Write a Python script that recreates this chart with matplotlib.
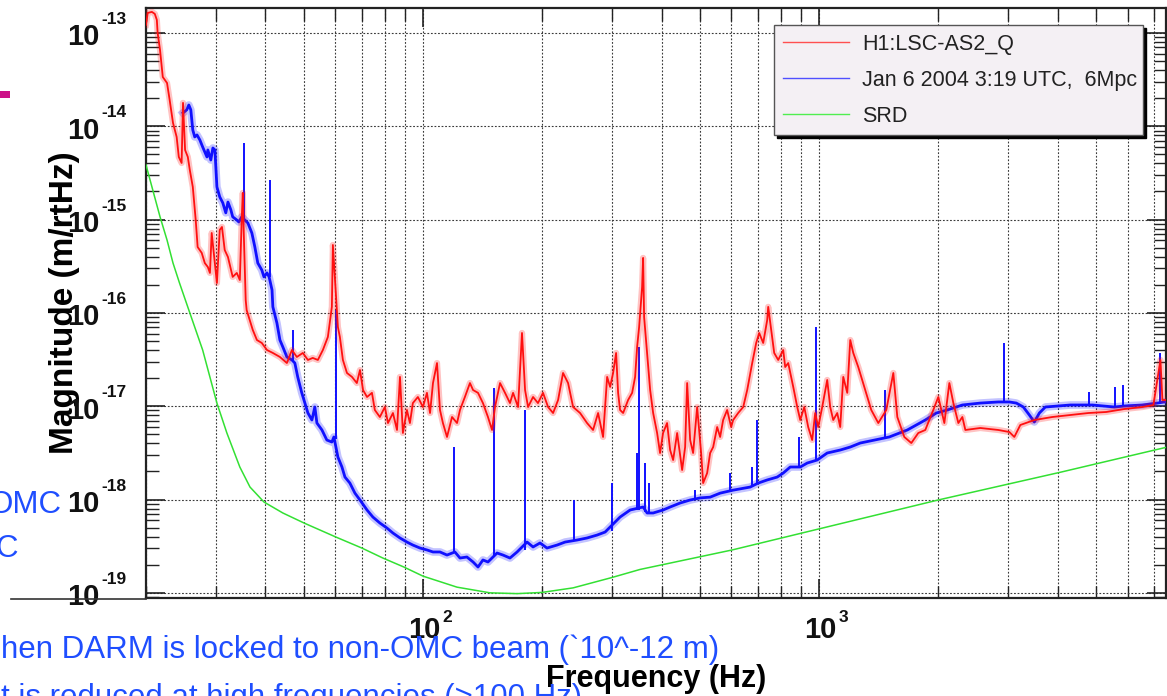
import numpy as np
import matplotlib
matplotlib.use("Agg")
import matplotlib.pyplot as plt
from matplotlib.ticker import LogLocator, NullFormatter
from matplotlib.transforms import offset_copy
from matplotlib.patches import Rectangle
from matplotlib.lines import Line2D

plt.rcParams['font.family'] = ['Liberation Sans', 'DejaVu Sans']

# H1:LSC-AS2_Q spectrum (Hz, m/rtHz)
red_f = [20.0, 20.2, 20.7, 21.05, 21.3, 21.4, 21.7, 22.05, 22.6, 22.95,
         23.4, 23.9, 24.2, 24.6, 24.8, 25.1, 25.5, 25.8, 26.25, 26.7,
         27.0, 27.65, 28.15, 28.65, 29.0, 29.3, 29.65, 30.2, 30.7, 31.1,
         31.6, 32.2, 33.1, 33.9, 34.5, 34.9, 35.1, 35.3, 35.7, 35.9,
         37.2, 38.1, 39.2, 40.4, 41.8, 43.55, 45.35, 46.7, 48.05, 49.75,
         51.25, 52.7, 54.3, 55.9, 57.55, 58.9, 59.25, 61.0, 61.7, 62.8,
         64.3, 66.2, 68.1, 69.35, 70.6, 72.25, 74.35, 75.6, 77.85, 80.15,
         81.6, 84.0, 86.0, 87.5, 89.0, 91.1, 92.7, 94.3, 97.1, 100.0,
         102.35, 104.2, 106.0, 108.5, 110.4, 112.3, 115.0, 118.4, 121.9, 124.0,
         127.6, 131.4, 133.8, 137.7, 141.7, 145.9, 149.4, 152.0, 156.5, 161.1,
         165.8, 168.8, 173.8, 177.8, 181.0, 184.2, 189.6, 195.1, 200.9, 206.9,
         213.0, 219.3, 225.7, 232.4, 239.3, 249.2, 259.5, 268.7, 276.7, 284.8,
         291.6, 296.7, 301.9, 307.2, 310.8, 314.4, 320.0, 329.4, 337.2, 343.1,
         347.1, 351.2, 357.3, 359.4, 361.5, 367.9, 374.4, 381.0, 389.9, 396.6,
         403.6, 413.1, 420.5, 427.9, 438.0, 450.9, 458.8, 464.2, 472.4, 480.6,
         492.0, 503.5, 509.4, 521.4, 530.6, 540.0, 552.7, 562.3, 572.2, 585.7,
         599.5, 606.5, 624.4, 643.0, 658.1, 677.5, 693.4, 705.6, 722.2, 739.2,
         743.5, 756.5, 769.9, 788.0, 811.2, 820.7, 835.2, 859.9, 880.2, 895.7,
         916.8, 938.0, 960.1, 977.0, 994.3, 1017.6, 1047.6, 1066.1, 1084.9, 1110.4,
         1129.9, 1150.0, 1177.0, 1197.7, 1218.9, 1254.7, 1353.3, 1409.6, 1476.8, 1538.2,
         1574.4, 1639.7, 1707.9, 1778.3, 1852.3, 1940.6, 1998.0, 2069.2, 2130.2, 2180.4,
         2244.6, 2297.5, 2338.0, 2550.3, 2831.4, 3018.6, 3107.5, 3218.0, 3490.8, 3876.5,
         4303.8, 4778.4, 5306.2, 5891.1, 6542.3, 6972.5, 7263.6, 7348.0, 7500.0]
red_m = [1.22e-13, 1.64e-13, 1.68e-13, 1.60e-13, 1.38e-13, 1.0e-13, 6.57e-14, 3.37e-14, 2.91e-14, 1.91e-14,
         1.085e-14, 7.68e-15, 4.69e-15, 4.04e-15, 1.78e-14, 5.57e-15, 4.69e-15, 3.40e-15, 2.24e-15, 9.9e-16,
         5.08e-16, 4.39e-16, 3.42e-16, 3.10e-16, 2.68e-16, 7.18e-16, 4.39e-16, 2.09e-16, 7.74e-16, 8.33e-16,
         4.72e-16, 3.97e-16, 2.43e-16, 2.68e-16, 2.25e-16, 1.07e-15, 1.93e-15, 7.18e-16, 1.37e-16, 1.07e-16,
         6.56e-17, 5.12e-17, 4.76e-17, 4.0e-17, 3.72e-17, 3.37e-17, 2.90e-17, 4.0e-17, 3.37e-17, 3.72e-17,
         3.13e-17, 3.29e-17, 3.13e-17, 4.0e-17, 5.52e-17, 1.16e-16, 5.34e-16, 7.06e-17, 5.52e-17, 3.13e-17,
         2.27e-17, 2.06e-17, 1.77e-17, 2.44e-17, 1.49e-17, 1.255e-17, 1.39e-17, 9.11e-18, 7.66e-18, 9.80e-18,
         6.60e-18, 8.45e-18, 5.56e-18, 2.06e-17, 5.16e-18, 9.11e-18, 6.60e-18, 1.08e-17, 1.255e-17, 9.80e-18,
         1.39e-17, 8.45e-18, 1.77e-17, 2.90e-17, 9.11e-18, 6.60e-18, 4.68e-18, 7.66e-18, 6.60e-18, 9.11e-18,
         1.255e-17, 1.77e-17, 1.49e-17, 1.39e-17, 1.08e-17, 7.66e-18, 5.56e-18, 9.80e-18, 1.77e-17, 1.39e-17,
         1.08e-17, 1.39e-17, 9.80e-18, 6.09e-17, 1.49e-17, 9.80e-18, 1.255e-17, 1.08e-17, 1.39e-17, 9.80e-18,
         8.45e-18, 1.165e-17, 2.27e-17, 1.77e-17, 9.80e-18, 8.45e-18, 6.60e-18, 5.56e-18, 8.45e-18, 4.68e-18,
         2.06e-17, 1.61e-17, 2.27e-17, 3.72e-17, 1.39e-17, 9.11e-18, 8.45e-18, 1.165e-17, 1.39e-17, 2.06e-17,
         4.31e-17, 7.06e-17, 1.89e-16, 3.88e-16, 9.04e-17, 3.72e-17, 1.49e-17, 8.45e-18, 5.16e-18, 3.15e-18,
         5.16e-18, 6.60e-18, 3.39e-18, 2.65e-18, 5.16e-18, 2.07e-18, 3.65e-18, 1.77e-17, 4.34e-18, 3.15e-18,
         9.80e-18, 3.15e-18, 1.50e-18, 1.92e-18, 3.15e-18, 3.65e-18, 5.98e-18, 4.68e-18, 7.11e-18, 9.11e-18,
         5.98e-18, 7.11e-18, 8.45e-18, 9.80e-18, 1.49e-17, 2.90e-17, 4.76e-17, 6.09e-17, 4.76e-17, 8.39e-17,
         1.16e-16, 6.56e-17, 3.72e-17, 3.13e-17, 4.0e-17, 2.63e-17, 2.90e-17, 1.61e-17, 9.80e-18, 7.11e-18,
         9.80e-18, 5.98e-18, 4.34e-18, 8.45e-18, 5.98e-18, 9.80e-18, 1.91e-17, 9.80e-18, 7.11e-18, 8.45e-18,
         5.98e-18, 2.06e-17, 1.39e-17, 5.12e-17, 3.72e-17, 2.63e-17, 9.11e-18, 6.60e-18, 9.11e-18, 2.27e-17,
         7.66e-18, 4.68e-18, 4.03e-18, 5.16e-18, 5.56e-18, 9.11e-18, 1.255e-17, 6.60e-18, 1.77e-17, 1.08e-17,
         6.60e-18, 7.66e-18, 5.56e-18, 5.84e-18, 5.56e-18, 5.29e-18, 4.68e-18, 6.29e-18, 7.11e-18, 7.66e-18,
         8.05e-18, 8.45e-18, 8.67e-18, 9.33e-18, 9.80e-18, 1.03e-17, 3.13e-17, 1.165e-17, 1.165e-17]

# Jan 6 2004 reference spectrum, floor without lines
blue_f = [24.8, 25.35, 25.65, 25.95, 26.25, 26.55, 26.9, 27.35, 27.8, 28.5,
          28.65, 29.15, 29.5, 29.85, 30.2, 30.7, 31.25, 31.8, 32.2, 32.75,
          33.1, 33.9, 34.3, 34.9, 35.5, 36.15, 37.0, 37.65, 38.3, 39.2,
          39.7, 40.4, 40.9, 41.6, 41.8, 42.8, 43.55, 44.3, 45.35, 46.7,
          47.5, 48.3, 49.45, 50.35, 51.25, 52.45, 53.35, 54.0, 55.6, 57.2,
          58.9, 59.6, 61.0, 62.45, 63.55, 65.4, 67.35, 69.35, 72.25, 74.75,
          77.85, 81.1, 84.0, 87.5, 91.1, 94.3, 98.3, 102.35, 106.0, 110.4,
          115.0, 120.4, 124.0, 129.1, 133.8, 137.7, 141.7, 145.9, 153.8, 159.2,
          165.8, 172.8, 183.1, 189.6, 197.4, 205.6, 218.0, 228.4, 244.9, 259.5,
          275.1, 288.2, 314.4, 333.3, 359.4, 367.9, 381.0, 403.6,
          420.5, 445.7, 472.4, 500.6, 530.6, 562.3, 606.5, 669.7, 701.5, 739.2,
          783.4, 811.2, 845.0, 895.7, 933.0, 988.4, 1047.6, 1129.9, 1197.7, 1269.4,
          1502.8, 1668.6, 1852.3, 1974.8, 2105.6, 2297.5, 2550.3, 2831.4, 3018.6, 3144.1,
          3274.8, 3391.0, 3490.8, 3594.4, 3721.7, 4303.8, 4891.1, 5559.1, 5891.1, 6542.3,
          7137.7, 7433.3, 7500.0]
blue_m = [1.39e-14, 1.50e-14, 1.69e-14, 1.50e-14, 9.12e-15, 7.68e-15, 8.07e-15, 7.13e-15, 6.00e-15, 4.69e-15,
          5.57e-15, 4.35e-15, 5.85e-15, 5.57e-15, 2.24e-15, 1.75e-15, 1.51e-15, 1.18e-15, 1.54e-15, 1.27e-15,
          1.07e-15, 9.9e-16, 9.43e-16, 1.07e-15, 9.9e-16, 9.19e-16, 7.18e-16, 5.08e-16, 3.42e-16, 2.88e-16,
          2.43e-16, 2.68e-16, 2.43e-16, 1.76e-16, 1.16e-16, 7.79e-17, 5.12e-17, 4.31e-17, 3.37e-17, 3.13e-17,
          2.90e-17, 2.06e-17, 1.39e-17, 1.08e-17, 8.45e-18, 7.11e-18, 9.80e-18, 6.60e-18, 5.56e-18, 4.34e-18,
          4.13e-18, 4.68e-18, 2.85e-18, 2.23e-18, 1.74e-18, 1.50e-18, 1.17e-18, 9.88e-19, 7.72e-19, 6.49e-19,
          5.60e-19, 4.95e-19, 4.37e-19, 3.87e-19, 3.50e-19, 3.25e-19, 3.02e-19, 2.88e-19, 2.74e-19, 2.74e-19,
          2.54e-19, 2.74e-19, 2.36e-19, 2.42e-19, 2.14e-19, 1.89e-19, 2.25e-19, 2.14e-19, 2.67e-19, 2.54e-19,
          2.36e-19, 2.74e-19, 3.50e-19, 3.10e-19, 3.42e-19, 3.02e-19, 3.25e-19, 3.50e-19, 3.68e-19, 3.87e-19,
          4.16e-19, 4.48e-19, 6.49e-19, 7.72e-19, 8.31e-19, 7.17e-19, 7.17e-19, 7.72e-19,
          8.31e-19, 9.17e-19, 9.88e-19, 1.04e-18, 1.06e-18, 1.17e-18, 1.26e-18, 1.36e-18, 1.50e-18, 1.62e-18,
          1.74e-18, 1.92e-18, 2.23e-18, 2.23e-18, 2.46e-18, 2.65e-18, 3.15e-18, 3.39e-18, 3.65e-18, 4.03e-18,
          4.68e-18, 5.56e-18, 7.11e-18, 8.45e-18, 9.11e-18, 1.03e-17, 1.08e-17, 1.11e-17, 1.11e-17, 1.08e-17,
          9.80e-18, 8.05e-18, 6.77e-18, 8.45e-18, 9.80e-18, 1.03e-17, 1.03e-17, 9.80e-18, 1.005e-17, 1.03e-17,
          1.08e-17, 1.11e-17, 1.11e-17]

# narrow lines in the reference spectrum: frequency, floor, peak
line_f = [35.3, 41.1, 46.95, 60.3, 119.8, 151.1, 181.0, 240.7, 300.2, 346.0,
          351.2, 363.6, 372.2, 486.3, 596.0, 677.5, 697.4, 890.5, 982.7, 1468.2,
          2932.1, 4806.3, 5591.5, 5857.3, 7263.6]
line_lo = [9.9e-16, 2.43e-16, 3.13e-17, 4.4e-18, 2.7e-19, 2.5e-19, 2.9e-19, 3.6e-19, 4.6e-19, 7.8e-19,
           7.8e-19, 7.3e-19, 7.2e-19, 1.0e-18, 1.2e-18, 1.36e-18, 1.5e-18, 2.2e-18, 2.65e-18, 4.7e-18,
           1.1e-17, 1.03e-17, 9.9e-18, 1.0e-17, 1.1e-17]
line_hi = [6.62e-15, 2.66e-15, 6.56e-17, 1.07e-16, 3.65e-18, 1.57e-17, 9.11e-18, 9.88e-19, 1.50e-18, 3.15e-18,
           4.31e-17, 2.46e-18, 1.50e-18, 1.26e-18, 1.92e-18, 2.23e-18, 7.11e-18, 4.68e-18, 7.06e-17, 1.49e-17,
           4.76e-17, 1.42e-17, 1.61e-17, 1.69e-17, 3.72e-17]

# SRD design curve
srd_f = [20.0, 20.8, 21.7, 22.6, 23.4, 24.3, 25.8, 27.8, 30.2, 32.0,
         34.5, 36.6, 39.7, 44.3, 50.1, 60.3, 70.1, 79.2, 89.5, 100.0,
         121.9, 147.6, 172.8, 199.7, 239.3, 300.0, 353.0, 603.0, 2000.0, 4083.0,
         7500.0]
srd_m = [3.85e-15, 2.08e-15, 1.07e-15, 6.04e-16, 3.42e-16, 2.09e-16, 1.0e-16, 4.0e-17, 1.08e-17, 5.16e-18,
         2.23e-18, 1.36e-18, 9.4e-19, 7.17e-19, 5.6e-19, 3.96e-19, 3.02e-19, 2.36e-19, 1.89e-19, 1.51e-19,
         1.15e-19, 1.0e-19, 0.98e-19, 1.01e-19, 1.13e-19, 1.46e-19, 1.78e-19, 2.88e-19, 9.9e-19, 1.97e-18,
         3.62e-18]

labels = ['H1:LSC-AS2_Q', 'Jan 6 2004 3:19 UTC,  6Mpc', 'SRD']
y_decades = [-13, -14, -15, -16, -17, -18, -19]
x_decades = [2, 3]

RED = '#ff1010'
BLUE = '#1010ff'
GREEN = '#33e033'
SLIDE_BLUE = '#1f4eff'

fig = plt.figure(figsize=(11.67, 6.96), dpi=100)
ax = fig.add_axes([0.1251, 0.1408, 0.8740, 0.8477])

ax.plot(srd_f, srd_m, color=GREEN, lw=1.1, zorder=3)
# soft halo under each spectrum so the noisy traces read as a band
ax.plot(blue_f, blue_m, color=BLUE, lw=5.5, alpha=0.25, zorder=4, solid_joinstyle='round')
ax.plot(blue_f, blue_m, color=BLUE, lw=2.0, zorder=4)
ax.vlines(line_f, line_lo, line_hi, color=BLUE, lw=1.4, zorder=4)
ax.plot(red_f, red_m, color=RED, lw=4.5, alpha=0.25, zorder=5, solid_joinstyle='round')
ax.plot(red_f, red_m, color=RED, lw=1.3, zorder=5)

ax.set_xscale('log')
ax.set_yscale('log')
ax.set_xlim(20, 7500)
ax.set_ylim(8.8e-20, 1.85e-13)

ax.xaxis.set_minor_locator(LogLocator(base=10, subs=np.arange(2, 10), numticks=50))
ax.yaxis.set_minor_locator(LogLocator(base=10, subs=np.arange(2, 10), numticks=50))
ax.xaxis.set_minor_formatter(NullFormatter())
ax.yaxis.set_minor_formatter(NullFormatter())
ax.tick_params(which='both', direction='in', top=True, right=True,
               labelbottom=False, labelleft=False, color='#222222')
ax.tick_params(which='major', length=14, width=1.2)
ax.tick_params(which='minor', length=9, width=1.0)

grid_kw = dict(color='#3a3a3a', lw=0.8, ls=(0, (1.6, 1.6)))
ax.grid(True, which='major', axis='both', **grid_kw)
ax.grid(True, which='minor', axis='x', **grid_kw)
ax.set_axisbelow(True)
for sp in ax.spines.values():
    sp.set_linewidth(1.6)
    sp.set_color('#222222')

# decade labels: big "10" with a small exponent
ytr = ax.get_yaxis_transform()
for e in y_decades:
    ax.text(0, 10.0 ** e, '10', transform=offset_copy(ytr, fig=fig, x=-46, y=-12.5, units='dots'),
            ha='right', va='baseline', fontsize=21, fontweight='bold', color='#111111', clip_on=False)
    ax.text(0, 10.0 ** e, str(e), transform=offset_copy(ytr, fig=fig, x=-45, y=9, units='dots'),
            ha='left', va='baseline', fontsize=12.5, fontweight='bold', color='#111111', clip_on=False)
xtr = ax.get_xaxis_transform()
for e in x_decades:
    ax.text(10.0 ** e, 0, '10', transform=offset_copy(xtr, fig=fig, x=1, y=-40, units='dots'),
            ha='center', va='baseline', fontsize=21, fontweight='bold', color='#111111', clip_on=False)
    ax.text(10.0 ** e, 0, str(e), transform=offset_copy(xtr, fig=fig, x=19, y=-24, units='dots'),
            ha='left', va='baseline', fontsize=12.5, fontweight='bold', color='#111111', clip_on=False)

ax.set_ylabel('Magnitude (m/rtHz)', fontsize=24, fontweight='bold', va='center')
ax.yaxis.set_label_coords(-0.080, 0.5)
ax.set_xlabel('Frequency (Hz)', fontsize=22, fontweight='bold', va='center')
ax.xaxis.set_label_coords(0.5, -0.137)

handles = [Line2D([], [], color=c, lw=1.0) for c in ('#ff5050', '#5050ff', '#50ee50')]
leg = ax.legend(handles, labels, loc='upper left', bbox_to_anchor=(0.6157, 0.788, 0.3618, 0.183),
                mode='expand', borderaxespad=0, fontsize=15.5, borderpad=0.4, labelspacing=0.7,
                handlelength=3.1, handletextpad=0.6, fancybox=False, framealpha=1,
                facecolor='#f4f0f4', edgecolor='#555555', labelcolor='#222222',
                shadow={'color': 'black', 'alpha': 1})
leg.get_frame().set_linewidth(1.0)

# slide text around the plot
fig.text(0.001, 1 - 658 / 696, 'hen DARM is locked to non-OMC beam (`10^-12 m)',
         fontsize=22.5, color=SLIDE_BLUE, ha='left', va='baseline')
fig.text(0.001, 1 - 706 / 696, 't is reduced at high frequencies (>100 Hz)',
         fontsize=22.5, color=SLIDE_BLUE, ha='left', va='baseline')
fig.text(-12 / 1167, 1 - 513 / 696, 'OMC', fontsize=22.5, color=SLIDE_BLUE, ha='left', va='baseline')
fig.text(-5 / 1167, 1 - 557 / 696, 'C', fontsize=22.5, color=SLIDE_BLUE, ha='left', va='baseline')
fig.add_artist(Rectangle((0, 1 - 98 / 696), 10 / 1167, 7 / 696, transform=fig.transFigure,
                         color='#cc1188', lw=0))
fig.add_artist(Line2D([11 / 1167, 146 / 1167], [1 - 598.5 / 696] * 2, transform=fig.transFigure,
                      color='#333333', lw=1.2))

fig.savefig('out.png', dpi=100)
